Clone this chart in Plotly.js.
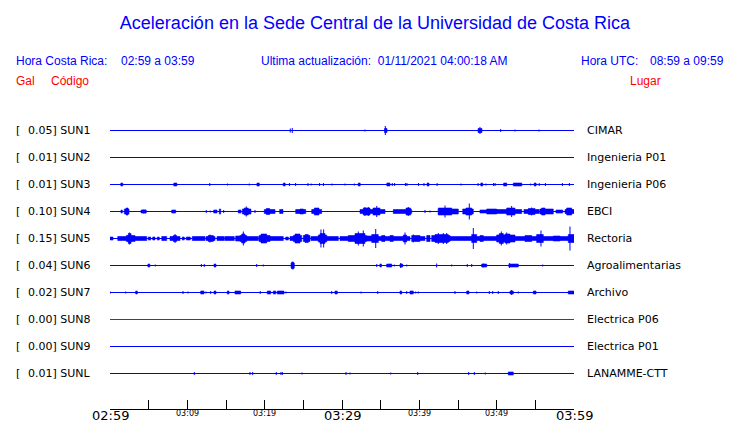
<!DOCTYPE html>
<html>
<head>
<meta charset="utf-8">
<script src="https://cdn.plot.ly/plotly-3.0.1.min.js"></script>
<style>html,body{margin:0;padding:0;background:#fff;}#chart{width:740px;height:423px;}</style>
</head>
<body>
<div id="chart"></div>
<script>
// ---------- DATA ----------
const stations = ['SUN1','SUN2','SUN3','SUN4','SUN5','SUN6','SUN7','SUN8','SUN9','SUNL'];
const galValues = ['0.05','0.01','0.01','0.10','0.15','0.04','0.02','0.00','0.00','0.01'];
const places = ['CIMAR','Ingenieria P01','Ingenieria P06','EBCI','Rectoria','Agroalimentarias','Archivo','Electrica P06','Electrica P01','LANAMME-CTT'];
const bigTickMinutes = [0, 30, 60];
const bigTickLabels = ['02:59', '03:29', '03:59'];
const smallTickMinutes = [10, 20, 40, 50];
const smallTickLabels = ['03:09', '03:19', '03:39', '03:49'];

// events per station: [start minute, end minute, half-amplitude]
const ev_SUN1 = [[23.31,23.31,2],[23.57,23.57,2.5],[32.97,32.97,1],[35.5,35.82,2],[35.6,35.6,4.5],
  [47.59,48.1,2],[47.84,47.84,3.5],[50.52,50.52,1.5],[52.37,52.37,1],[55.47,55.47,1]];
const ev_SUN2 = [];
const ev_SUN3 = [[1.4,1.65,1.5],[8.25,8.65,1.5],[12.9,12.9,1.5],[15.2,15.2,1],[18.0,18.0,1],[19.0,19.3,1.5],
  [22.4,22.65,1.5],[23.2,23.2,1.5],[24.0,24.0,1.5],[25.6,25.6,1.5],[26.0,26.0,1],[27.1,27.1,1.5],[27.6,27.6,1.5],
  [28.7,28.7,1],[30.4,30.4,1],[31.6,31.6,1],[32.1,32.35,1.5],[35.8,36.2,1.5],[36.5,36.5,1.5],[36.8,36.8,1.5],
  [38.2,38.2,1.5],[38.4,38.4,1.5],[39.9,39.9,1.5],[40.6,40.6,1.5],[41.0,41.25,1.5],[42.3,42.3,1.5],[45.4,45.4,1],
  [47.6,47.6,1.5],[47.95,48.2,1.5],[48.6,48.6,1],[49.6,49.6,1.5],[49.8,49.8,1.5],[50.9,51.3,1.5],[52.15,53.25,1.5],
  [54.4,54.4,1],[54.85,55.1,1.5],[55.5,55.5,1.5],[56.3,56.3,1.5],[58.5,58.5,1.5],[59.4,59.4,1.5]];
const ev_SUN4 = [[1.42,1.59,1.5],[1.85,2.46,2.5],[2.07,2.33,3.5],[4.01,4.69,1.5],[4.31,4.31,2],[4.53,4.53,2],
  [7.98,8.5,1.5],[12.45,12.45,1.5],[12.97,12.97,1],[13.41,13.84,1.5],[14.13,14.31,2.5],[14.7,14.7,1.5],
  [16.59,16.94,1.5],[17.11,18.23,2.5],[17.37,17.88,3.5],[17.62,17.62,5],[18.75,18.75,1.5],
  [19.95,21.34,2],[20.21,20.65,3],[21.94,22.37,2],[24.01,25.31,2],[24.57,25.0,2.5],[26.08,27.37,2],[26.42,27.03,3.5],
  [32.33,35.56,2],[32.75,33.62,3.5],[32.97,32.97,4.5],[33.4,33.4,4.5],[34.01,34.91,3.5],[34.49,34.49,5.5],
  [36.63,39.01,2],[38.28,38.88,3.5],[38.57,38.57,4.5],[40.73,40.73,1.5],[41.38,41.38,1],
  [42.45,45.04,2.5],[42.45,44.18,3.5],[43.32,43.32,6],[45.61,46.98,2.5],[46.03,46.77,3.5],[46.46,46.46,8],
  [47.84,48.71,1.5],[48.71,50.0,2.5],[50.0,53.24,2],[51.3,52.37,3.5],[51.94,51.94,5.5],
  [53.53,55.51,2],[54.09,54.96,3],[54.53,54.53,4],[55.6,57.32,2.5],[55.82,56.25,3.5],[57.67,58.54,1.5],
  [58.84,60,2],[59.05,59.7,3.5]];
const ev_SUN5 = [[0,0.39,1.5],[1.0,2.11,2],[2.11,3.23,3],[2.37,2.72,5],[2.5,2.5,6],[3.23,4.75,2],[4.95,5.26,1.5],
  [5.52,5.82,1.5],[6.12,6.37,1.5],[6.69,7.33,2],[7.76,9.05,2],[8.19,8.62,3],[8.41,8.41,4.5],[9.35,9.61,1.5],
  [9.87,10.38,1.5],[10.64,12.28,2],[12.41,13.58,2],[12.71,13.36,3],[12.93,12.93,4],[13.84,14.78,2],[14.87,16.07,2],
  [16.25,16.81,2.5],[16.81,17.68,3],[17.03,17.46,4.5],[17.24,17.24,7],[17.68,19.18,2],[19.27,20.69,3],[19.53,20.26,4.5],
  [20.69,22.41,2],[22.72,23.06,1.5],[23.28,23.7,2],[23.7,24.79,3],[23.92,24.57,4.5],[25.0,25.86,3],[25.22,25.64,4],
  [25.99,26.94,2],[26.94,28.02,3.5],[27.16,27.8,5],[27.28,27.28,9],[27.63,27.63,9],[28.02,29.52,2],[29.74,30.81,2],
  [30.81,33.19,3],[31.68,32.97,5],[32.11,32.11,7],[32.75,32.75,8],[33.19,33.84,2.5],[33.84,34.69,4],[34.36,34.36,9.5],
  [34.69,37.93,2],[35.13,35.56,3],[36.21,36.63,3],[37.93,38.36,3.5],[38.15,38.15,6],[38.36,38.79,2],
  [39.01,40.09,3],[39.22,39.22,4],[40.09,40.73,2],[40.95,41.38,3],[41.6,43.97,3],[42.03,43.75,4],
  [42.45,42.45,5.5],[43.1,43.1,5.5],[43.54,43.54,5.5],[43.97,46.77,2],[46.77,47.42,4],[46.98,46.98,10.5],
  [47.42,50.0,2],[47.84,48.27,3],[50.0,52.37,3.5],[50.34,50.86,5],[50.6,50.6,7],[51.08,51.72,4.5],[51.3,51.3,6],
  [52.37,55.17,2],[53.66,54.53,3],[55.17,56.03,4],[55.73,55.73,8],[56.03,57.32,2],[57.32,58.19,2.5],
  [58.19,59.26,2],[59.26,60,4],[59.48,59.48,12]];
const ev_SUN6 = [[4.9,5.15,1.5],[5.86,5.86,1],[11.81,11.81,1.5],[12.19,12.19,1.5],[13.45,13.7,1.5],[18.97,18.97,1.5],
  [19.82,19.82,1],[23.41,23.83,2.5],[23.5,23.75,3.5],[34.49,34.49,1.5],[34.9,35.1,1.5],[35.78,36.43,1.5],
  [36.76,36.76,1],[37.5,37.85,1.5],[37.59,37.59,2.5],[38.37,38.37,1],[42.24,42.24,2],[44.18,44.18,1],
  [46.2,46.2,1.5],[46.77,46.77,1.5],[48.06,48.71,1.5],[48.27,48.27,2],[51.59,52.8,1.5],[51.64,51.64,2.5],
  [55.95,55.95,1]];
const ev_SUN7 = [[0.04,0.04,1],[2.03,2.03,1],[3.32,3.53,1.5],[9.44,9.44,1.5],[10.09,10.09,1],[11.73,12.15,1.5],
  [12.41,12.41,1],[13.02,13.02,1.5],[13.45,13.7,1.5],[15.17,15.39,1.5],[16.16,16.9,1.5],[19.43,19.43,1.5],
  [20.34,20.78,1.5],[21.12,21.43,1.5],[21.63,22.5,1.5],[22.76,22.76,1],[28.67,28.67,1.5],[29.09,29.39,1.5],
  [32.46,32.46,1],[34.62,34.62,1.5],[37.5,37.72,1.5],[38.37,38.37,1.5],[38.79,39.22,1.5],[39.53,39.53,1],
  [39.87,39.87,1],[44.61,44.61,1.5],[46.12,46.42,1.5],[47.42,47.42,1],[49.05,49.05,1.5],[49.49,49.49,1.5],
  [50.21,50.21,1.5],[51.72,52.15,1.5],[51.94,51.94,2.5],[52.8,52.8,1],[54.74,55.09,1.5],[59.26,60,1.5]];
const ev_SUN8 = [];
const ev_SUN9 = [];
const ev_SUNL = [[10.9,10.9,1.5],[18.1,18.1,1.5],[18.45,18.45,1.5],[21.5,21.5,1.5],[22.11,22.11,1.5],[22.28,22.28,1.5],
  [24.83,24.83,1],[30.52,30.52,1.5],[31.03,31.03,1],[36.3,36.3,1],[39.79,39.79,1.5],[46.38,46.38,1.5],
  [47.11,47.11,1.5],[48.53,48.53,1],[51.5,52.15,1.5]];
const eventsByStation = [ev_SUN1, ev_SUN2, ev_SUN3, ev_SUN4, ev_SUN5, ev_SUN6, ev_SUN7, ev_SUN8, ev_SUN9, ev_SUNL];
const durationMinutes = 60;

// ---------- STYLE / LAYOUT ----------
const ROW = 27;           // row spacing in y units (1 unit = 1 px)
const BLUE = '#0000ff';
const RED_ROW = 7;        // SUN8 drawn in red
const L = 110, R = 166, T = 103, B = 14, W = 740, H = 423;
const PW = W - L - R, PH = H - T - B;
function px2paperX(px){ return (px - L) / PW; }
function px2paperY(py){ return (H - B - py) / PH; }

const traces = [];
stations.forEach((s, i) => {
  const base = -ROW * i;
  const col = (i === RED_ROW) ? '#e00000' : BLUE;
  traces.push({type:'scatter', mode:'lines', x:[0, durationMinutes], y:[base, base],
    line:{color:col, width:1}, hoverinfo:'skip', showlegend:false});
  const bx = [], by = [], sx = [], sy = [];
  eventsByStation[i].forEach(e => {
    const t0 = e[0], t1 = e[1], a = e[2];
    if (t1 > t0) {
      bx.push(t0, t1, t1, t0, t0, null);
      by.push(base - a, base - a, base + a, base + a, base - a, null);
    } else {
      sx.push(t0, t0, null);
      sy.push(base - a, base + a, null);
    }
  });
  if (bx.length) {
    traces.push({type:'scatter', mode:'lines', x:bx, y:by, fill:'toself', fillcolor:col,
      line:{color:col, width:0.6}, hoverinfo:'skip', showlegend:false, connectgaps:false});
  }
  if (sx.length) {
    traces.push({type:'scatter', mode:'lines', x:sx, y:sy,
      line:{color:col, width:1}, hoverinfo:'skip', showlegend:false, connectgaps:false});
  }
});

const ann = [];
const hdrFont = {family:'Liberation Sans, Arial, sans-serif', size:12, color:'#0000ff'};
const redFont = {family:'Liberation Sans, Arial, sans-serif', size:12, color:'#ff0000'};
function addText(text, px, py, font, xanchor){
  ann.push({text:text, xref:'paper', yref:'paper', x:px2paperX(px), y:px2paperY(py),
    xanchor:xanchor||'left', yanchor:'middle', showarrow:false, font:font, borderpad:0});
}
addText('Hora Costa Rica:', 15, 61, hdrFont);
addText('02:59 a 03:59', 120, 61, hdrFont);
addText('Ultima actualización:  01/11/2021 04:00:18 AM', 260, 61, hdrFont);
addText('Hora UTC:', 580, 61, hdrFont);
addText('08:59 a 09:59', 725, 61, hdrFont, 'right');
addText('Gal', 15, 81, redFont);
addText('Código', 50, 81, redFont);
addText('Lugar', 629, 81, redFont);

const lblFont = {family:'DejaVu Sans, sans-serif', size:11, color:'#000'};
stations.forEach((s, i) => {
  const base = -ROW * i;
  ann.push({text:'[', xref:'paper', yref:'y', x:px2paperX(15), y:base, xanchor:'left', yanchor:'middle',
    showarrow:false, font:lblFont, borderpad:0});
  ann.push({text:galValues[i] + '] ' + s, xref:'paper', yref:'y', x:px2paperX(27), y:base, xanchor:'left',
    yanchor:'middle', showarrow:false, font:lblFont, borderpad:0});
  ann.push({text:places[i], xref:'paper', yref:'y', x:px2paperX(586), y:base, xanchor:'left',
    yanchor:'middle', showarrow:false, font:lblFont, borderpad:0});
});
bigTickMinutes.forEach((m, k) => {
  ann.push({text:bigTickLabels[k], xref:'x', yref:'paper', x:m, y:px2paperY(415.5), xanchor:'center',
    yanchor:'middle', showarrow:false, font:{family:'DejaVu Sans, sans-serif', size:13, color:'#000'}, borderpad:0});
});
smallTickMinutes.forEach((m, k) => {
  ann.push({text:smallTickLabels[k], xref:'x', yref:'paper', x:m, y:px2paperY(413), xanchor:'center',
    yanchor:'middle', showarrow:false, font:{family:'DejaVu Sans, sans-serif', size:8, color:'#000'}, borderpad:0});
});

const layout = {
  width:W, height:H, margin:{l:L, r:R, t:T, b:B, pad:0},
  paper_bgcolor:'#fff', plot_bgcolor:'#fff',
  title:{text:'Aceleración en la Sede Central de la Universidad de Costa Rica', xref:'container', yref:'container',
    x:375/W, y:1 - 23/H, xanchor:'center', yanchor:'middle',
    font:{family:'Liberation Sans, Arial, sans-serif', size:18, color:'#0000ff'}},
  xaxis:{range:[0, durationMinutes], showgrid:false, zeroline:false, showline:true, linecolor:'#000', linewidth:1,
    ticks:'inside', ticklen:9, tickcolor:'#000', tickwidth:1, tick0:0, dtick:5, showticklabels:false, fixedrange:true},
  // offset by half a unit so that 1px baselines fall on pixel centres
  yaxis:{range:[-(PH - ROW) + 0.5, ROW + 0.5], showgrid:false, zeroline:false, showline:false, showticklabels:false,
    ticks:'', fixedrange:true},
  annotations:ann, showlegend:false
};
Plotly.newPlot('chart', traces, layout, {displayModeBar:false, staticPlot:true});
</script>
</body>
</html>
